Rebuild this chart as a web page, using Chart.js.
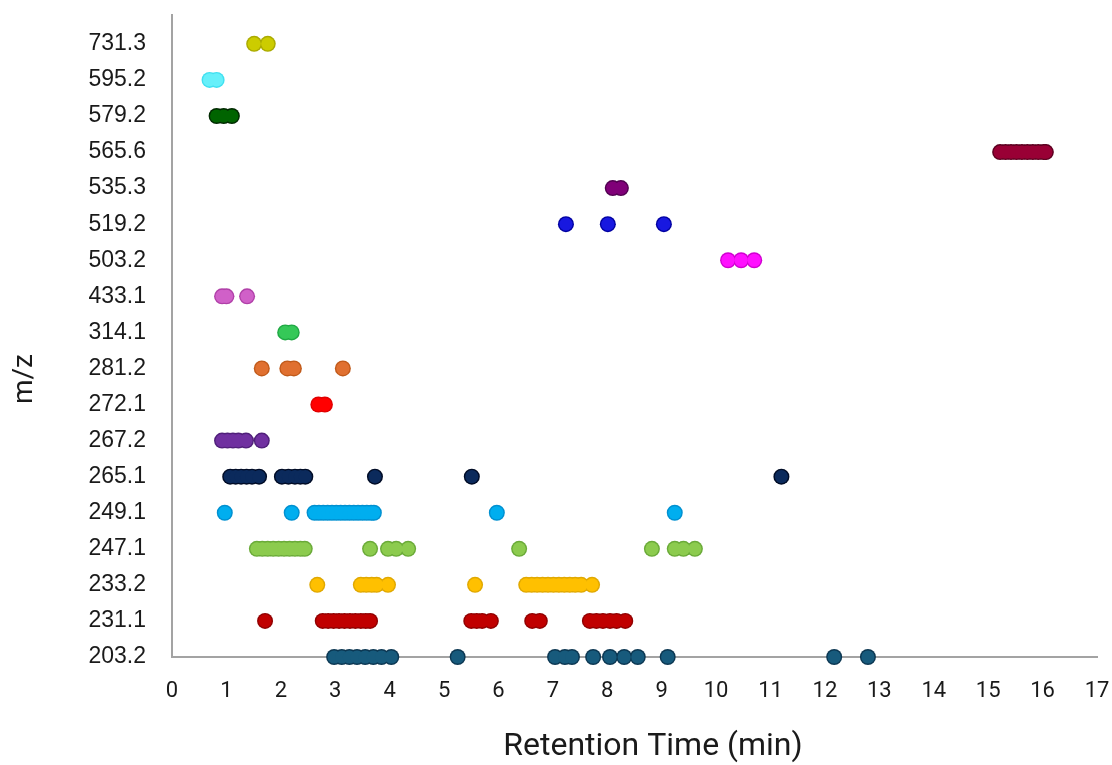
<!DOCTYPE html>
<html>
<head>
<meta charset="utf-8">
<title>Retention time by m/z</title>
<script src="https://cdn.jsdelivr.net/npm/chart.js@4/dist/chart.umd.min.js"></script>
<style>
  html, body { margin: 0; padding: 0; background: #ffffff; }
  #wrap { width: 1112px; height: 765px; position: relative; }
</style>
</head>
<body>
<div id="wrap"><canvas id="chart" width="1112" height="765"></canvas></div>
<script>
// m/z rows, bottom to top
const mzLabels = ['203.2', '231.1', '233.2', '247.1', '249.1', '265.1', '267.2', '272.1', '281.2',
                  '314.1', '433.1', '503.2', '519.2', '535.3', '565.6', '579.2', '595.2', '731.3'];

// retention times (min) observed for each m/z
const rt203_2 = [2.98, 3.12, 3.26, 3.40, 3.55, 3.70, 3.85, 4.03, 5.25, 7.04, 7.22, 7.35,
                 7.74, 8.05, 8.31, 8.56, 9.11, 12.17, 12.79];
const rt231_1 = [1.71, 2.77, 2.87, 2.97, 3.07, 3.17, 3.27, 3.37, 3.47, 3.56, 3.64,
                 5.50, 5.60, 5.70, 5.86, 6.62, 6.76, 7.68, 7.80, 7.92, 8.05, 8.17, 8.33];
const rt233_2 = [2.67, 3.47, 3.57, 3.67, 3.76, 3.97, 5.57, 6.51, 6.61, 6.71, 6.81, 6.91, 7.01,
                 7.11, 7.21, 7.31, 7.41, 7.52, 7.72];
const rt247_1 = [1.56, 1.66, 1.76, 1.86, 1.96, 2.06, 2.16, 2.26, 2.36, 2.44, 3.64, 3.97, 4.12,
                 4.34, 6.38, 8.82, 9.24, 9.40, 9.61];
const rt249_1 = [0.97, 2.20, 2.62, 2.70, 2.78, 2.86, 2.94, 3.02, 3.10, 3.18, 3.26, 3.34, 3.42,
                 3.50, 3.58, 3.66, 3.71, 5.97, 9.24];
const rt265_1 = [1.07, 1.17, 1.27, 1.37, 1.47, 1.60, 2.02, 2.14, 2.26, 2.36, 2.45, 3.73, 5.51, 11.20];
const rt267_2 = [0.92, 1.02, 1.12, 1.22, 1.36, 1.65];
const rt272_1 = [2.69, 2.81];
const rt281_2 = [1.65, 2.12, 2.24, 3.14];
const rt314_1 = [2.08, 2.20];
const rt433_1 = [0.92, 1.00, 1.38];
const rt503_2 = [10.22, 10.46, 10.70];
const rt519_2 = [7.24, 8.01, 9.04];
const rt535_3 = [8.10, 8.25];
const rt565_6 = [15.22, 15.32, 15.42, 15.52, 15.62, 15.72, 15.82, 15.92, 16.02, 16.06];
const rt579_2 = [0.82, 0.95, 1.10];
const rt595_2 = [0.69, 0.82];
const rt731_3 = [1.51, 1.76];

const seriesTimes = [rt203_2, rt231_1, rt233_2, rt247_1, rt249_1, rt265_1, rt267_2, rt272_1, rt281_2,
                     rt314_1, rt433_1, rt503_2, rt519_2, rt535_3, rt565_6, rt579_2, rt595_2, rt731_3];

// x axis ticks (min)
const rtTicks = [0, 1, 2, 3, 4, 5, 6, 7, 8, 9, 10, 11, 12, 13, 14, 15, 16, 17];

const xTitle = 'Retention Time (min)';
const yTitle = 'm/z';

// marker fill / outline per row
const fillColors = ['#175a7c', '#c00000', '#ffc000', '#8ccb4e', '#00aeef', '#0b2a5c', '#7030a0', '#ff0000',
                    '#e07030', '#35c858', '#d060c8', '#ff10ff', '#1818e0', '#800078', '#990035', '#006400',
                    '#66f0fa', '#cccc00'];
const edgeColors = ['#0c3752', '#900000', '#e0a800', '#6aaa38', '#0090d0', '#000c26', '#50207a', '#e00000',
                    '#c05a1a', '#20a844', '#b040a8', '#d000d0', '#0000a0', '#500050', '#5c0020', '#002a00',
                    '#40e0f0', '#aaaa00'];

// each row is drawn twice: a slightly larger outline layer underneath,
// then the fill layer on top, so touching markers merge into one band
const datasets = [];
mzLabels.forEach((mz, row) => {
  const pts = seriesTimes[row].map(t => ({ x: t, y: row }));
  datasets.push({
    label: mz + ' outline',
    data: pts,
    backgroundColor: edgeColors[row],
    borderWidth: 0,
    pointRadius: 8,
    pointHoverRadius: 8,
    clip: false,
    order: 1
  });
  datasets.push({
    label: mz,
    data: pts,
    backgroundColor: fillColors[row],
    borderWidth: 0,
    pointRadius: 6.6,
    pointHoverRadius: 6.6,
    clip: false,
    order: 0
  });
});

const axisGray = '#a3a3a3';

// axis titles
const axisTitlePlugin = {
  id: 'axisTitles',
  afterDraw(chart) {
    const { ctx } = chart;
    ctx.save();
    ctx.fillStyle = '#1a1a1a';
    ctx.textAlign = 'center';
    ctx.textBaseline = 'middle';

    ctx.font = '32px Roboto';
    ctx.fillText(xTitle, 653, 747);

    ctx.translate(25, 379);
    ctx.rotate(-Math.PI / 2);
    ctx.font = '28px Roboto';
    ctx.fillText(yTitle, 0, 0);
    ctx.restore();
  }
};

new Chart(document.getElementById('chart'), {
  type: 'scatter',
  data: { datasets },
  plugins: [axisTitlePlugin],
  options: {
    responsive: false,
    animation: false,
    events: [],
    layout: { padding: { top: 15, right: 15, bottom: 0, left: 0 } },
    plugins: { legend: { display: false }, tooltip: { enabled: false } },
    scales: {
      x: {
        type: 'linear',
        min: rtTicks[0],
        max: rtTicks[rtTicks.length - 1],
        afterBuildTicks: s => { s.ticks = rtTicks.map(v => ({ value: v })); },
        afterFit: s => { s.height = 108; s.paddingLeft = 0; s.paddingRight = 0; },
        grid: { display: false, drawTicks: false },
        border: { display: true, color: axisGray, width: 2 },
        ticks: {
          padding: 21,
          color: '#1a1a1a',
          font: { family: 'Roboto', size: 22 },
          maxRotation: 0,
          autoSkip: false
        },
        title: { display: false }
      },
      y: {
        type: 'linear',
        min: 0,
        max: 17.8,
        afterBuildTicks: s => { s.ticks = mzLabels.map((_, i) => ({ value: i })); },
        afterFit: s => { s.width = 172; s.paddingTop = 0; s.paddingBottom = 0; },
        grid: { display: false, drawTicks: false },
        border: { display: true, color: axisGray, width: 2 },
        ticks: {
          padding: 26,
          color: '#1a1a1a',
          font: { family: 'Liberation Sans', size: 23 },
          autoSkip: false,
          callback: (v) => mzLabels[v]
        },
        title: { display: false }
      }
    }
  }
});
</script>
</body>
</html>
